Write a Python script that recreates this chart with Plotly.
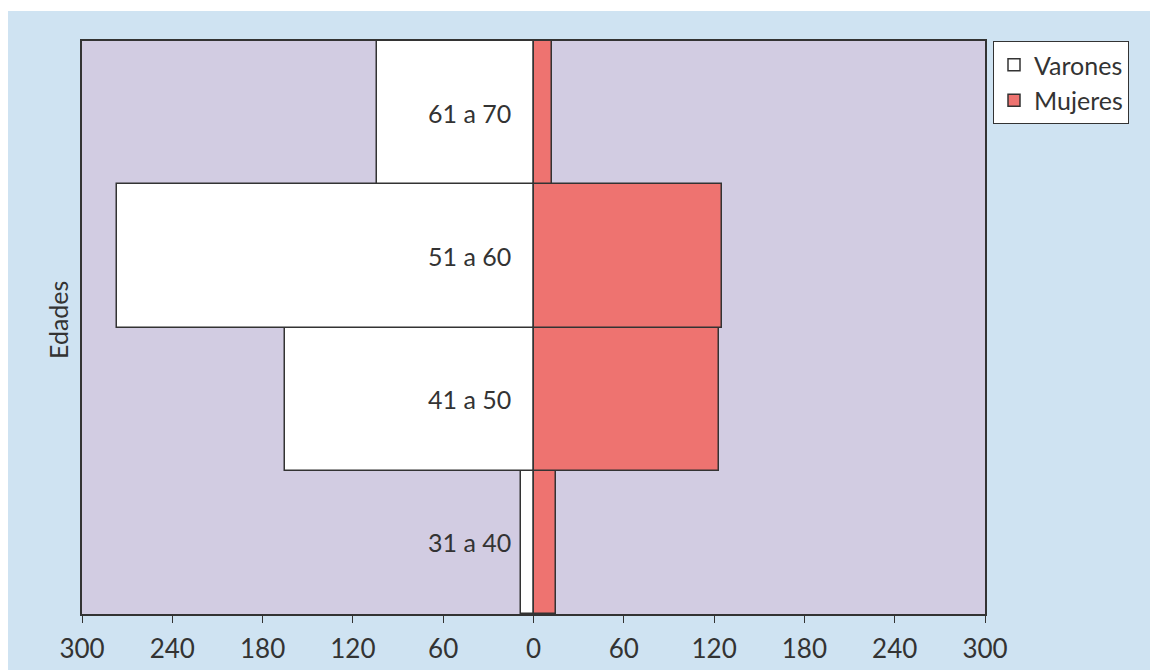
import plotly.graph_objects as go

categorias = ["31 a 40", "41 a 50", "51 a 60", "61 a 70"]
varones = [8, 165, 277, 104]
mujeres = [15, 123, 125, 12]
tick_vals = [-300, -240, -180, -120, -60, 0, 60, 120, 180, 240, 300]
tick_text = ["300", "240", "180", "120", "60", "0", "60", "120", "180", "240", "300"]

FONT = "Lato"
TXT = "#333333"
WGT = 400

fig = go.Figure()
fig.add_trace(go.Bar(
    y=categorias, x=[-v for v in varones], orientation="h", name="Varones",
    marker=dict(color="#ffffff", line=dict(color="#333333", width=1.5)),
    hoverinfo="skip",
))
fig.add_trace(go.Bar(
    y=categorias, x=mujeres, orientation="h", name="Mujeres",
    marker=dict(color="#ee7370", line=dict(color="#333333", width=1.5)),
    hoverinfo="skip",
))

for c in categorias:
    fig.add_annotation(x=0, y=c, xref="x", yref="y", text=c, showarrow=False,
                       xanchor="right", xshift=-21,
                       font=dict(family=FONT, size=25, color=TXT, weight=WGT))

# figure is placed at page offset (8, 8) by the default body margin
W, H = 1150, 662
L, R, T, B = 74, 173, 33, 56
pw, ph = W - L - R, H - T - B
def px2x(p):
    return (p - L) / pw
def py2y(p):
    return (H - B - p) / ph

# thin white strip at top (reference blue starts 3px lower)
fig.add_shape(type="rect", xref="paper", yref="paper",
              x0=px2x(-5), x1=px2x(W + 5), y0=py2y(3), y1=py2y(-5),
              fillcolor="#ffffff", line=dict(width=0))

# y-axis title
fig.add_annotation(xref="paper", yref="paper", x=px2x(67), y=py2y(312),
                   xanchor="right", yanchor="middle", text="Edades", textangle=-90,
                   showarrow=False, font=dict(family=FONT, size=25, color=TXT, weight=WGT))

fig.update_layout(
    width=W, height=H,
    margin=dict(l=L, r=R, t=T, b=B, autoexpand=False),
    paper_bgcolor="#cfe3f2",
    plot_bgcolor="#d2cce2",
    barmode="relative",
    bargap=0,
    showlegend=True,
    legend=dict(x=px2x(985), y=py2y(33), xanchor="left", yanchor="top",
                bgcolor="#ffffff", bordercolor="#333333", borderwidth=1,
                font=dict(family=FONT, size=25, color=TXT, weight=WGT), traceorder="normal",
                itemwidth=30, tracegroupgap=0),
    font=dict(family=FONT, color=TXT),
    xaxis=dict(range=[-300, 300], tickvals=tick_vals, ticktext=tick_text,
               ticks="outside", ticklen=7, tickcolor="#333333", tickwidth=1,
               showgrid=False, zeroline=True, zerolinecolor="#111111", zerolinewidth=2,
               showline=True, linecolor="#333333", linewidth=2, mirror=True,
               tickfont=dict(family=FONT, size=26, color=TXT, weight=WGT), ticklabelstandoff=4,
               automargin=False, fixedrange=True),
    yaxis=dict(range=[-0.5, 3.5], showticklabels=False, ticks="",
               showgrid=False, showline=True, linecolor="#333333", linewidth=2, mirror=True,
               automargin=False, fixedrange=True),
)

fig.write_html("out.html")
